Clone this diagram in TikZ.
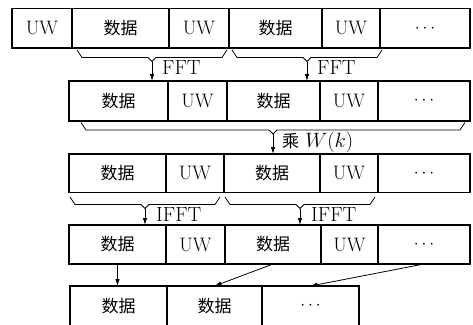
\documentclass[tikz,border=0pt]{standalone}
\usepackage{fontspec}
\newfontfamily\cjk{Noto Sans CJK SC}
\usetikzlibrary{arrows.meta}
\newcommand\sj{{\cjk\fontsize{17}{20}\selectfont 数据}}
\newcommand\uw{UW}
\newcommand\dd{{\fontsize{19}{20}\selectfont$\cdots$}}
\newcommand\cell[6]{\node[cellbox, minimum width={(#3-#2)*1pt}, minimum height={(#5-#4)*1pt}] (#1) at ({(#2+#3)/2},{(#4+#5)/2}) {#6};}
\newcommand\brc[5]{%
  \coordinate (#1) at ({(#2+#3)/2},#5+4);
  \draw[bracel] (#2,#4) -- (#2+5,#5) -- ({(#2+#3)/2-4},#5) -- (#1) -- ({(#2+#3)/2+4},#5) -- (#3-5,#5) -- (#3,#4);}
\tikzset{
  cellbox/.style={draw, line width=1.1pt, inner sep=0pt, outer sep=0pt, font=\fontsize{19.5}{22}\selectfont},
  bracel/.style={line width=0.8pt, line join=miter},
  arr/.style={line width=0.8pt, -{Latex[length=7pt,width=4.5pt]}},
  lbl/.style={anchor=west, inner sep=0pt, font=\fontsize{20.5}{24}\selectfont},
}
\begin{document}
\begin{tikzpicture}[x=1pt,y=-1pt]
\useasboundingbox (0,0) rectangle (473,324);
% row 1
\cell{r1a}{12}{72}{8.5}{48}{\uw}
\cell{r1b}{72}{169}{8.5}{48}{\sj}
\cell{r1c}{169}{229}{8.5}{48}{\uw}
\cell{r1d}{229}{322}{8.5}{48}{\sj}
\cell{r1e}{322}{380}{8.5}{48}{\uw}
\cell{r1f}{380}{470}{8.5}{48}{\dd}
% row 2
\cell{r2a}{69}{168}{81}{121}{\sj}
\cell{r2b}{168}{227}{81}{121}{\uw}
\cell{r2c}{227}{320}{81}{121}{\sj}
\cell{r2d}{320}{378}{81}{121}{\uw}
\cell{r2e}{378}{470}{81}{121}{\dd}
% row 3
\cell{r3a}{69}{166}{154}{192.5}{\sj}
\cell{r3b}{166}{224}{154}{192.5}{\uw}
\cell{r3c}{224}{320}{154}{192.5}{\sj}
\cell{r3d}{320}{378}{154}{192.5}{\uw}
\cell{r3e}{378}{470}{154}{192.5}{\dd}
% row 4
\cell{r4a}{69}{166}{225}{264}{\sj}
\cell{r4b}{166}{225}{225}{264}{\uw}
\cell{r4c}{225}{321}{225}{264}{\sj}
\cell{r4d}{321}{378}{225}{264}{\uw}
\cell{r4e}{378}{470}{225}{264}{\dd}
% row 5
\cell{r5a}{70}{167}{286}{326}{\sj}
\cell{r5b}{167}{262}{286}{326}{\sj}
\cell{r5c}{262}{359}{286}{326}{\dd}
% braces
\brc{b1}{77}{227}{50}{57.5}
\brc{b2}{232}{382}{50}{57.5}
\brc{b3}{81}{465}{122.5}{130}
\brc{b4}{70}{220}{197}{204.5}
\brc{b5}{225}{375}{197}{204.5}
% arrows
\draw[arr] (b1) -- (b1 |- r2a.north);
\draw[arr] (b2) -- (b2 |- r2c.north);
\draw[arr] (b3) -- (b3 |- r3c.north);
\draw[arr] (b4) -- (b4 |- r4a.north);
\draw[arr] (b5) -- (b5 |- r4c.north);
\draw[arr] (r4a.south) -- (r4a.south |- r5a.north);
\draw[arr] (r4c.south) -- (r5b.north);
\draw[arr] (r4e.south) -- (r5c.north);
% labels
\node[lbl] (l1) at (162,68) {FFT};
\node[lbl] (l2) at (317,68) {FFT};
\node[lbl] (l3) at (282,142) {{\cjk\fontsize{17}{20}\selectfont 乘} $W(k)$};
\node[lbl] (l4) at (156,214) {IFFT};
\node[lbl] (l5) at (311,214) {IFFT};
\end{tikzpicture}
\end{document}
